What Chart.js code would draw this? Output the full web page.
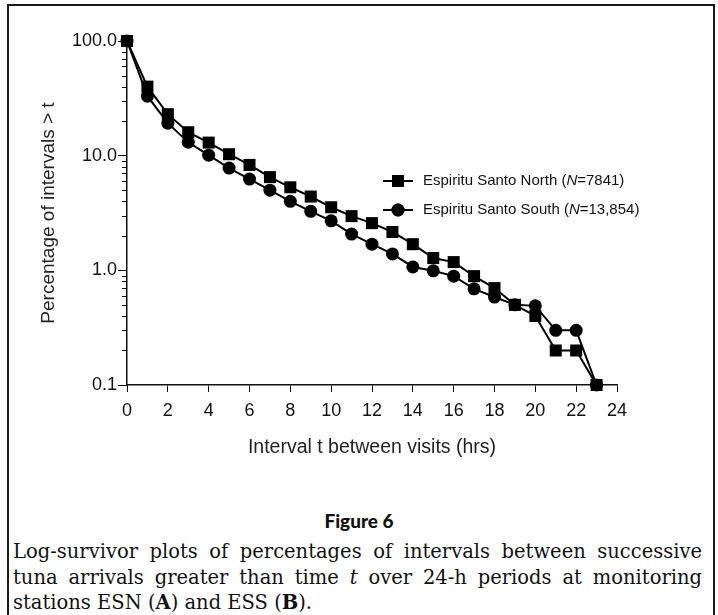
<!DOCTYPE html>
<html>
<head>
<meta charset="utf-8">
<script src="https://cdn.jsdelivr.net/npm/chart.js@4/dist/chart.umd.min.js"></script>
<style>
html,body{margin:0;padding:0;background:#fff;}
body{width:718px;height:615px;position:relative;overflow:hidden;font-family:"Liberation Sans",Arial,sans-serif;}
#frame{position:absolute;left:7px;top:4px;width:708px;height:720px;border:2px solid #1a1a1a;box-sizing:border-box;}
#chartBox{position:absolute;left:0;top:0;width:718px;height:480px;}
#figTitle{position:absolute;left:0;top:509px;width:718px;text-align:center;font-family:Lato,"Liberation Sans",sans-serif;font-weight:900;font-size:19px;color:#111;}
.cap{position:absolute;left:13px;width:689px;font-family:"DejaVu Serif",serif;font-size:19.5px;color:#111;white-space:nowrap;line-height:25px;}
.just{text-align:justify;text-align-last:justify;}
</style>
</head>
<body>
<div id="frame"></div>
<div id="chartBox"><canvas id="c" width="718" height="480"></canvas></div>
<div id="figTitle">Figure 6</div>
<div class="cap just" style="top:539px;">Log-survivor plots of percentages of intervals between successive</div>
<div class="cap just" style="top:565px;">tuna arrivals greater than time <i>t</i> over 24-h periods at monitoring</div>
<div class="cap" style="top:590px;">stations ESN (<b>A</b>) and ESS (<b>B</b>).</div>
<script>
// ---- data ----
const hours = [0,1,2,3,4,5,6,7,8,9,10,11,12,13,14,15,16,17,18,19,20,21,22,23];
const northValues = [100, 40, 23, 16, 13, 10.3, 8.3, 6.5, 5.3, 4.4, 3.55, 2.97, 2.58, 2.16, 1.69, 1.28, 1.18, 0.89, 0.70, 0.50, 0.40, 0.20, 0.20, 0.10];
const southValues = [100, 33, 19.2, 13.1, 10.1, 7.8, 6.25, 5.0, 4.0, 3.27, 2.7, 2.07, 1.69, 1.39, 1.07, 0.99, 0.89, 0.69, 0.585, 0.50, 0.49, 0.30, 0.30, 0.10];
const xTickValues = [0,2,4,6,8,10,12,14,16,18,20,22,24];
const yMajorTicks = [0.1, 1, 10, 100];
const yMinorTicks = [0.2,0.3,0.4,0.5,0.6,0.7,0.8,0.9,2,3,4,5,6,7,8,9,20,30,40,50,60,70,80,90];
const seriesNames = ["Espiritu Santo North", "Espiritu Santo South"];
const seriesN = ["7841", "13,854"];
const yTitle = "Percentage of intervals > t";
const xTitle = "Interval t between visits (hrs)";

const toPts = vals => hours.map((h, i) => ({x: h, y: vals[i]}));

const minorTickPlugin = {
  id: 'minorTicks',
  afterDraw(chart) {
    const y = chart.scales.y, ctx = chart.ctx;
    ctx.save();
    ctx.strokeStyle = '#111';
    ctx.lineWidth = 1;
    yMinorTicks.forEach(v => {
      const p = Math.round(y.getPixelForValue(v)) + 0.5;
      ctx.beginPath();
      ctx.moveTo(y.right - 5, p);
      ctx.lineTo(y.right, p);
      ctx.stroke();
    });
    ctx.restore();
  }
};

const legendPlugin = {
  id: 'customLegend',
  afterDraw(chart) {
    const ctx = chart.ctx, a = chart.chartArea;
    const x0 = a.left + 256, y0 = a.top + 140, gap = 29;
    const styles = ['rect', 'circle'];
    const radii = [8.5, 6.5];
    ctx.save();
    for (let i = 0; i < 2; i++) {
      const y = y0 + i * gap;
      ctx.strokeStyle = '#000';
      ctx.lineWidth = 2;
      ctx.beginPath();
      ctx.moveTo(x0, y);
      ctx.lineTo(x0 + 30, y);
      ctx.stroke();
      ctx.fillStyle = '#000';
      Chart.helpers.drawPoint(ctx, {pointStyle: styles[i], radius: radii[i], borderWidth: 0}, x0 + 15, y);
      ctx.fill();
      ctx.textBaseline = 'middle';
      ctx.textAlign = 'left';
      let tx = x0 + 40;
      const normal = '15px "Liberation Sans", Arial, sans-serif';
      const ital = 'italic 15px "Liberation Sans", Arial, sans-serif';
      const parts = [[seriesNames[i] + ' (', normal], ['N', ital], ['=' + seriesN[i] + ')', normal]];
      ctx.fillStyle = '#111';
      parts.forEach(([t, f]) => {
        ctx.font = f;
        ctx.fillText(t, tx, y);
        tx += ctx.measureText(t).width;
      });
    }
    ctx.restore();
  }
};

new Chart(document.getElementById('c'), {
  type: 'line',
  data: {
    datasets: [
      {
        label: seriesNames[0],
        data: toPts(northValues),
        borderColor: '#000', backgroundColor: '#000',
        borderWidth: 2, pointStyle: 'rect', pointRadius: 8.5, pointBorderWidth: 0,
        tension: 0, clip: false
      },
      {
        label: seriesNames[1],
        data: toPts(southValues),
        borderColor: '#000', backgroundColor: '#000',
        borderWidth: 2, pointStyle: 'circle', pointRadius: 6.5, pointBorderWidth: 0,
        tension: 0, clip: false
      }
    ]
  },
  options: {
    responsive: false,
    animation: false,
    devicePixelRatio: 1,
    layout: {padding: {left: 33, top: 41, right: 101, bottom: 17}},
    plugins: {legend: {display: false}, tooltip: {enabled: false}},
    scales: {
      x: {
        type: 'linear', min: 0, max: 24,
        afterFit(s) { s.height = 78; },
        afterBuildTicks(s) { s.ticks = xTickValues.map(v => ({value: v})); },
        grid: {drawOnChartArea: false, tickLength: 7, color: '#111', tickColor: '#111'},
        border: {display: true, color: '#111', width: 1.5},
        ticks: {color: '#111', padding: 8, font: {family: '"Liberation Sans", Arial, sans-serif', size: 18}, maxRotation: 0},
        title: {display: true, text: xTitle, color: '#222', font: {family: '"Liberation Sans", Arial, sans-serif', size: 19.5}, padding: {top: 4, bottom: 4}}
      },
      y: {
        type: 'logarithmic', min: 0.1, max: 100,
        afterFit(s) { s.width = 94; },
        afterBuildTicks(s) { s.ticks = yMajorTicks.map(v => ({value: v})); },
        grid: {drawOnChartArea: false, tickLength: 9, color: '#111', tickColor: '#111'},
        border: {display: true, color: '#111', width: 1.5},
        ticks: {color: '#111', padding: 1, font: {family: '"Liberation Sans", Arial, sans-serif', size: 18}, callback: v => Number(v).toFixed(1)},
        title: {display: true, text: yTitle, color: '#222', font: {family: '"Liberation Sans", Arial, sans-serif', size: 19}, padding: {top: 4, bottom: 4}}
      }
    }
  },
  plugins: [minorTickPlugin, legendPlugin]
});
</script>
</body>
</html>
